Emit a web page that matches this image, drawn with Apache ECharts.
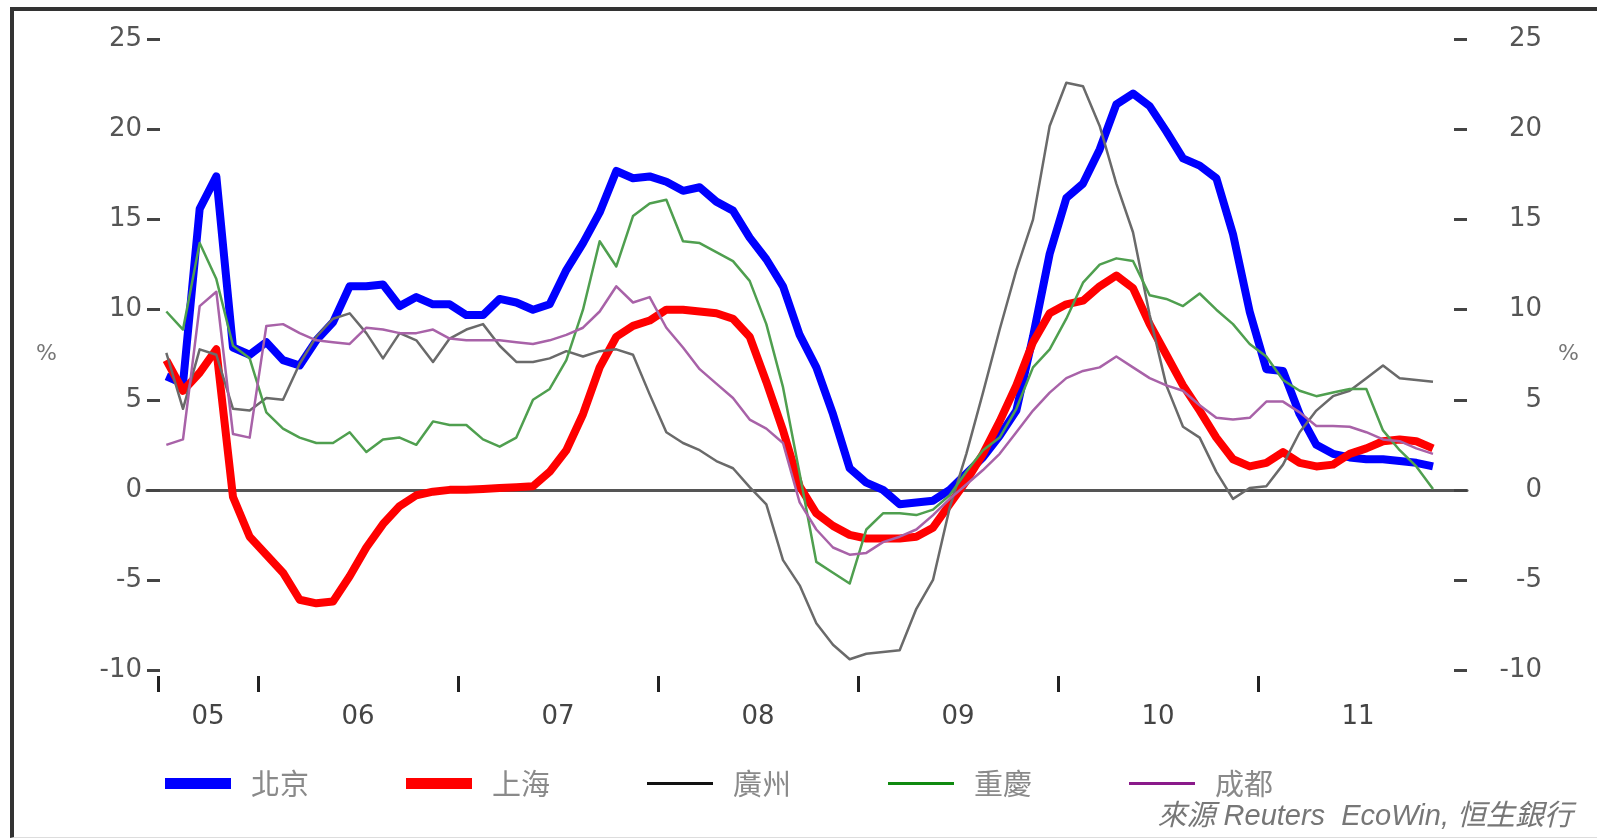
<!DOCTYPE html>
<html>
<head>
<meta charset="utf-8">
<script src="https://cdn.jsdelivr.net/npm/echarts@6/dist/echarts.min.js"></script>
<style>
html,body{margin:0;padding:0;background:#fff;}
#wrap{position:relative;width:1597px;height:838px;overflow:hidden;background:#fff;}
#chart{position:absolute;left:0;top:0;width:1597px;height:838px;}
#frame{position:absolute;left:10px;top:7px;width:1600px;height:831px;border-left:4px solid #333;border-top:4px solid #333;border-bottom:1px solid #ddd;box-sizing:border-box;pointer-events:none;}
</style>
</head>
<body>
<div id="wrap"><div id="chart"></div><div id="frame"></div></div>
<script>
// ---- categories (monthly observations) ----
const months = [
  '2005-07','2005-08','2005-09','2005-10','2005-11','2005-12',
  '2006-01','2006-02','2006-03','2006-04','2006-05','2006-06','2006-07','2006-08','2006-09','2006-10','2006-11','2006-12',
  '2007-01','2007-02','2007-03','2007-04','2007-05','2007-06','2007-07','2007-08','2007-09','2007-10','2007-11','2007-12',
  '2008-01','2008-02','2008-03','2008-04','2008-05','2008-06','2008-07','2008-08','2008-09','2008-10','2008-11','2008-12',
  '2009-01','2009-02','2009-03','2009-04','2009-05','2009-06','2009-07','2009-08','2009-09','2009-10','2009-11','2009-12',
  '2010-01','2010-02','2010-03','2010-04','2010-05','2010-06','2010-07','2010-08','2010-09','2010-10','2010-11','2010-12',
  '2011-01','2011-02','2011-03','2011-04','2011-05','2011-06','2011-07','2011-08','2011-09','2011-10','2011-11'
];

// ---- tick labels ----
const yearLabels = ['05','06','07','08','09','10','11'];

// ---- series values (%) ----
const beijing = [
  6.3, 5.9, 15.6, 17.4, 7.9, 7.5,
  8.2, 7.2, 6.9, 8.3, 9.3, 11.3, 11.3, 11.4, 10.2, 10.7, 10.3, 10.3,
  9.7, 9.7, 10.6, 10.4, 10.0, 10.3, 12.2, 13.7, 15.4, 17.7, 17.3, 17.4,
  17.1, 16.6, 16.8, 16.0, 15.5, 14.0, 12.8, 11.3, 8.6, 6.8, 4.2, 1.2,
  0.4, 0.0, -0.8, -0.7, -0.6, 0.0, 0.9, 1.8, 3.0, 4.4, 8.5, 13.1,
  16.2, 17.0, 18.9, 21.4, 22.0, 21.3, 19.9, 18.4, 18.0, 17.3, 14.2, 9.9,
  6.7, 6.6, 4.2, 2.5, 2.0, 1.8, 1.7, 1.7, 1.6, 1.5, 1.3
];
const shanghai = [
  7.2, 5.5, 6.5, 7.8, -0.4, -2.6,
  -3.6, -4.6, -6.1, -6.3, -6.2, -4.8, -3.2, -1.9, -0.9, -0.3, -0.1, 0.0,
  0.0, 0.05, 0.1, 0.15, 0.2, 1.0, 2.2, 4.2, 6.8, 8.5, 9.1, 9.4,
  10.0, 10.0, 9.9, 9.8, 9.5, 8.5, 6.0, 3.3, 0.2, -1.3, -2.0, -2.5,
  -2.7, -2.7, -2.7, -2.6, -2.1, -0.8, 0.5, 2.0, 3.8, 5.8, 8.2, 9.8,
  10.3, 10.5, 11.3, 11.9, 11.2, 9.2, 7.5, 5.8, 4.4, 2.9, 1.7, 1.3,
  1.5, 2.1, 1.5, 1.3, 1.4, 2.0, 2.3, 2.7, 2.8, 2.7, 2.3
];
const guangzhou = [
  7.6, 4.5, 7.8, 7.5, 4.5, 4.4,
  5.1, 5.0, 7.0, 8.5, 9.5, 9.8, 8.7, 7.3, 8.7, 8.3, 7.1, 8.4,
  8.9, 9.2, 8.0, 7.1, 7.1, 7.3, 7.7, 7.4, 7.7, 7.8, 7.5, 5.3,
  3.2, 2.6, 2.2, 1.6, 1.2, 0.15, -0.8, -3.9, -5.3, -7.4, -8.6, -9.4,
  -9.1, -9.0, -8.9, -6.6, -5.0, -1.0, 2.0, 5.4, 8.9, 12.2, 15.0, 20.2,
  22.6, 22.4, 20.2, 17.0, 14.3, 9.7, 5.8, 3.5, 2.9, 1.0, -0.5, 0.1,
  0.2, 1.4, 3.2, 4.4, 5.2, 5.5, 6.2, 6.9, 6.2, 6.1, 6.0
];
const chongqing = [
  9.9, 8.9, 13.7, 11.7, 8.0, 7.3,
  4.3, 3.4, 2.9, 2.6, 2.6, 3.2, 2.1, 2.8, 2.9, 2.5, 3.8, 3.6,
  3.6, 2.8, 2.4, 2.9, 5.0, 5.6, 7.2, 10.0, 13.8, 12.4, 15.2, 15.9,
  16.1, 13.8, 13.7, 13.2, 12.7, 11.6, 9.2, 5.7, 0.9, -4.0, -4.6, -5.2,
  -2.2, -1.3, -1.3, -1.4, -1.1, -0.3, 1.0, 2.2, 2.9, 4.5, 6.8, 7.8,
  9.5, 11.5, 12.5, 12.85, 12.7, 10.8, 10.6, 10.2, 10.9, 10.0, 9.2, 8.1,
  7.4, 6.1, 5.5, 5.2, 5.4, 5.6, 5.6, 3.3, 2.2, 1.3, 0.05
];
const chengdu = [
  2.5, 2.8, 10.2, 11.0, 3.1, 2.9,
  9.1, 9.2, 8.7, 8.3, 8.2, 8.1, 9.0, 8.9, 8.7, 8.7, 8.9, 8.4,
  8.3, 8.3, 8.3, 8.2, 8.1, 8.3, 8.6, 9.0, 9.9, 11.3, 10.4, 10.7,
  9.0, 7.9, 6.7, 5.9, 5.1, 3.9, 3.4, 2.6, -0.7, -2.2, -3.2, -3.6,
  -3.5, -2.9, -2.6, -2.2, -1.4, -0.5, 0.3, 1.1, 2.0, 3.2, 4.4, 5.4,
  6.2, 6.6, 6.8, 7.4, 6.8, 6.2, 5.8, 5.5, 4.7, 4.0, 3.9, 4.0,
  4.9, 4.9, 4.3, 3.55, 3.55, 3.5, 3.2, 2.8, 2.7, 2.3, 2.0
];

// month string -> decimal year at mid-month
const toYear = s => { const p = s.split('-').map(Number); return p[0] + (p[1] - 0.5) / 12; };
const pts = vals => months.map((m, i) => [toYear(m), vals[i]]);

const axisStart = toYear(months[0]) - 1 / 24;              // start of first month
const tickVals = [axisStart].concat(yearLabels.slice(1).map(l => 2000 + Number(l)));
const labelVals = yearLabels.map(l => { const y = 2000 + Number(l); return (Math.max(y, axisStart) + y + 1) / 2; });

const numFont = "'DejaVu Sans', 'Liberation Sans', sans-serif";
const cjkFont = "'Noto Sans CJK TC', 'Noto Sans CJK SC', sans-serif";

const chart = echarts.init(document.getElementById('chart'), null, { renderer: 'canvas' });
const yAxisBase = (pos) => ({
  type: 'value', position: pos, min: -10, max: 25, interval: 5,
  axisLine: { show: false },
  axisTick: { show: true, inside: true, length: 13, lineStyle: { color: '#444', width: 3 } },
  splitLine: { show: false },
  name: '%', nameLocation: 'middle', nameRotate: 0,
  nameTextStyle: { fontSize: 22, color: '#777', fontFamily: numFont }
});
const yLeft = yAxisBase('left');
yLeft.axisLabel = { margin: 5, fontSize: 26, color: '#555', fontFamily: numFont };
yLeft.nameGap = 90;
const yRight = yAxisBase('right');
yRight.axisLabel = { margin: 75, align: 'right', fontSize: 26, color: '#555', fontFamily: numFont };
yRight.nameGap = 91;

const thin = 2.5;
chart.setOption({
  animation: false,
  backgroundColor: '#fff',
  grid: { left: 147, right: 130, top: 39.5, bottom: 168, containLabel: false, outerBoundsMode: 'none' },
  title: {
    text: '來源 Reuters  EcoWin, 恒生銀行',
    right: 24, top: 802, padding: 0,
    textStyle: { fontSize: 29, fontStyle: 'italic', fontWeight: 'normal', color: '#777',
      fontFamily: "'Liberation Sans', 'Noto Sans CJK TC', sans-serif" }
  },
  legend: {
    left: 160, top: 764, itemWidth: 66, itemHeight: 11, itemGap: 97,
    selectedMode: false,
    itemStyle: { borderWidth: 0 },
    textStyle: { fontSize: 29, color: '#8a8a8a', fontFamily: cjkFont, padding: [0, 0, 0, 15] },
    data: [
      { name: '北京', icon: 'rect', itemStyle: { color: '#0000ff' } },
      { name: '上海', icon: 'rect', itemStyle: { color: '#ff0000' } },
      { name: '廣州', icon: 'path://M0,0H65V3H0Z', itemStyle: { color: '#111111' } },
      { name: '重慶', icon: 'path://M0,0H65V3H0Z', itemStyle: { color: '#108a10' } },
      { name: '成都', icon: 'path://M0,0H65V3H0Z', itemStyle: { color: '#8a1a8a' } }
    ]
  },
  xAxis: [
    {
      type: 'value', position: 'bottom', min: 2005.445, max: 2012.045, offset: 6,
      axisLine: { show: false, onZero: false },
      axisTick: { show: true, customValues: tickVals, length: 16, lineStyle: { color: '#222', width: 3 } },
      axisLabel: { customValues: labelVals, margin: 28, fontSize: 26, color: '#444', fontFamily: numFont,
        formatter: v => yearLabels[Math.floor(v) - 2005] },
      splitLine: { show: false }
    },
    {
      type: 'value', position: 'bottom', min: 2005.445, max: 2012.045,
      axisLine: { show: true, onZero: true, onZeroAxisIndex: 0, lineStyle: { color: '#555', width: 3 } },
      axisTick: { show: false }, axisLabel: { show: false }, splitLine: { show: false }
    }
  ],
  yAxis: [yLeft, yRight],
  series: [
    { name: '北京', type: 'line', data: pts(beijing), symbol: 'none', color: '#0000ff',
      lineStyle: { width: 8, color: '#0000ff', join: 'round' } },
    { name: '上海', type: 'line', data: pts(shanghai), symbol: 'none', color: '#ff0000',
      lineStyle: { width: 8, color: '#ff0000', join: 'round' } },
    { name: '廣州', type: 'line', data: pts(guangzhou), symbol: 'none', color: '#111111',
      lineStyle: { width: thin, color: '#6a6a6a', join: 'round' } },
    { name: '重慶', type: 'line', data: pts(chongqing), symbol: 'none', color: '#108a10',
      lineStyle: { width: thin, color: '#4f9f4f', join: 'round' } },
    { name: '成都', type: 'line', data: pts(chengdu), symbol: 'none', color: '#8a1a8a',
      lineStyle: { width: thin, color: '#a862a8', join: 'round' } }
  ]
});
</script>
</body>
</html>
